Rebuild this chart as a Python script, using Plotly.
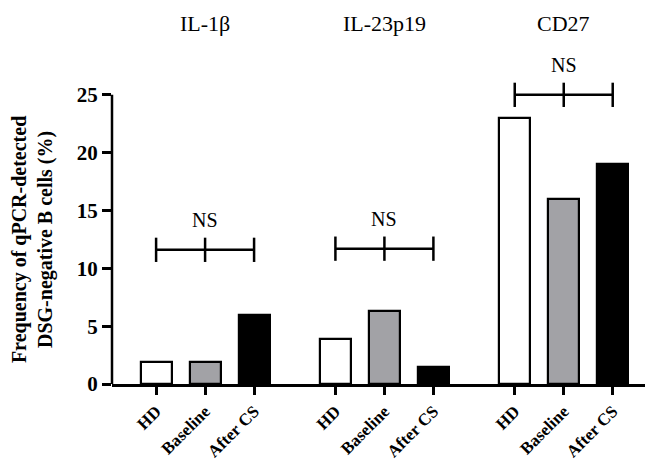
import plotly.graph_objects as go

genes = ["IL-1β", "IL-23p19", "CD27"]
conditions = ["HD", "Baseline", "After CS"]
values = {
    "IL-1β": [1.9, 1.9, 6.0],
    "IL-23p19": [3.9, 6.3, 1.5],
    "CD27": [23.0, 16.0, 19.0],
}
ns_level = [11.6, 11.7, 25.0]
ns_label = "NS"
y_ticks = [0, 5, 10, 15, 20, 25]

colors = ["#ffffff", "#a2a2a6", "#000000"]
group_step = 3.66
bar_w = 0.63
FONT = "Liberation Serif, Times New Roman, serif"

fig = go.Figure()
tickvals, ticktext = [], []
for gi, g in enumerate(genes):
    xs = [gi * group_step + k for k in range(len(conditions))]
    for k, c in enumerate(conditions):
        fig.add_trace(go.Bar(
            x=[xs[k]], y=[values[g][k]], width=bar_w,
            marker=dict(color=colors[k], line=dict(color="#000000", width=2.2)),
            showlegend=False, hoverinfo="skip"))
        tickvals.append(xs[k])
        ticktext.append(c)
    # title
    fig.add_annotation(x=xs[1], y=1.04, xref="x", yref="paper", text=g, showarrow=False,
                       font=dict(family=FONT, size=22, color="#000"), yanchor="middle")
    # NS bracket
    lv = ns_level[gi]
    fig.add_shape(type="line", x0=xs[0], x1=xs[2], y0=lv, y1=lv, xref="x", yref="y",
                  line=dict(color="#000", width=2.5))
    for xv in xs:
        fig.add_shape(type="line", x0=xv, x1=xv, y0=lv - 1.05, y1=lv + 1.05, xref="x", yref="y",
                      line=dict(color="#000", width=2.5))
    fig.add_annotation(x=xs[1], y=lv + 2.6, xref="x", yref="y", text=ns_label, showarrow=False,
                       font=dict(family=FONT, size=20, color="#000"), yanchor="middle")

# y axis line from 0 to 25 only
fig.add_shape(type="line", x0=0, x1=0, y0=0, y1=y_ticks[-1], xref="paper", yref="y",
              line=dict(color="#000", width=2.5))

fig.add_annotation(x=-0.148, y=12.5, xref="paper", yref="y",
                   text="<b>Frequency of qPCR-detected<br>DSG-negative B cells (%)</b>",
                   textangle=-90, showarrow=False,
                   font=dict(family=FONT, size=20, color="#000"), xanchor="center", yanchor="middle")

fig.update_layout(
    width=653, height=465,
    margin=dict(l=104, r=13, t=29, b=89),
    plot_bgcolor="#fff", paper_bgcolor="#fff",
    font=dict(family=FONT, color="#000"),
    bargap=0,
)
fig.update_xaxes(range=[-0.9, 10.04], tickvals=tickvals,
                 ticktext=[f"<b>{t}</b>" for t in ticktext],
                 tickangle=-45, tickfont=dict(family=FONT, size=17, color="#000"),
                 showline=True, linecolor="#000", linewidth=2.5,
                 ticks="outside", ticklen=8, tickwidth=2.5, tickcolor="#000",
                 showgrid=False, zeroline=False, automargin=False)
fig.update_yaxes(range=[0, 30], tickvals=y_ticks,
                 ticktext=[f"<b>{v}</b>" for v in y_ticks],
                 tickfont=dict(family=FONT, size=21, color="#000"),
                 ticks="outside", ticklen=9, tickwidth=2.5, tickcolor="#000",
                 showline=False, showgrid=False, zeroline=False, automargin=False)

fig.write_html("out.html")
